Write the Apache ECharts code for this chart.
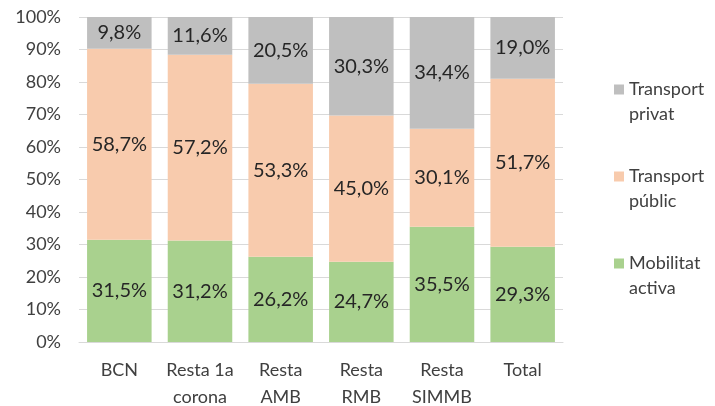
<!DOCTYPE html>
<html>
<head>
<meta charset="utf-8">
<script src="https://cdn.jsdelivr.net/npm/echarts@6/dist/echarts.min.js"></script>
<style>
  html, body { margin: 0; padding: 0; background: #fff; }
  #chart { width: 715px; height: 406px; }
</style>
</head>
<body>
<div id="chart"></div>
<script>
const categories = ['BCN', 'Resta 1a\ncorona', 'Resta\nAMB', 'Resta\nRMB', 'Resta\nSIMMB', 'Total'];
const mobilitatActiva = [31.5, 31.2, 26.2, 24.7, 35.5, 29.3];
const transportPublic = [58.7, 57.2, 53.3, 45.0, 30.1, 51.7];
const transportPrivat = [9.8, 11.6, 20.5, 30.3, 34.4, 19.0];
const yTicks = [0, 10, 20, 30, 40, 50, 60, 70, 80, 90, 100];

const font = 'Lato, "Open Sans", sans-serif';

// etiqueta amb coma decimal
const pct = (p) => p.value.toFixed(1).replace('.', ',') + '%';

function serie (name, data, color) {
  return {
    name: name,
    type: 'bar',
    stack: 'total',
    data: data,
    barCategoryGap: '20%',
    itemStyle: { color: color },
    label: {
      show: true,
      position: 'inside',
      formatter: pct,
      fontFamily: font,
      fontSize: 20,
      color: '#262626'
    }
  };
}

var chart = echarts.init(document.getElementById('chart'), null, { renderer: 'canvas' });
chart.setOption({
  backgroundColor: '#fff',
  animation: false,
  grid: { left: 79, right: 152, top: 17, bottom: 64, containLabel: false, outerBoundsMode: 'none' },
  legend: {
    orient: 'vertical',
    left: 609,
    top: 47,
    itemWidth: 10,
    itemHeight: 10,
    itemGap: 12,
    icon: 'rect',
    data: ['Transport\nprivat', 'Transport\npúblic', 'Mobilitat\nactiva'],
    // línia buida al davant perquè el quadre quedi a la primera línia
    formatter: (name) => '\n' + name,
    textStyle: { fontFamily: font, fontSize: 18, color: '#404040', lineHeight: 25 }
  },
  xAxis: {
    type: 'category',
    data: categories,
    axisLine: { lineStyle: { color: '#d9d9d9', width: 1 } },
    axisTick: { show: false },
    axisLabel: { interval: 0, fontFamily: font, fontSize: 18, color: '#404040', margin: 15, lineHeight: 27 }
  },
  yAxis: {
    type: 'value',
    min: 0,
    max: 100,
    interval: 10,
    axisLine: { show: false },
    axisTick: { show: false },
    splitLine: { lineStyle: { color: '#d9d9d9', width: 1 } },
    axisLabel: {
      fontFamily: font, fontSize: 18, color: '#404040', margin: 18,
      formatter: (v) => yTicks.includes(v) ? v + '%' : ''
    }
  },
  series: [
    serie('Mobilitat\nactiva', mobilitatActiva, '#a9d18e'),
    serie('Transport\npúblic', transportPublic, '#f8cbad'),
    serie('Transport\nprivat', transportPrivat, '#bfbfbf')
  ]
});
</script>
</body>
</html>
